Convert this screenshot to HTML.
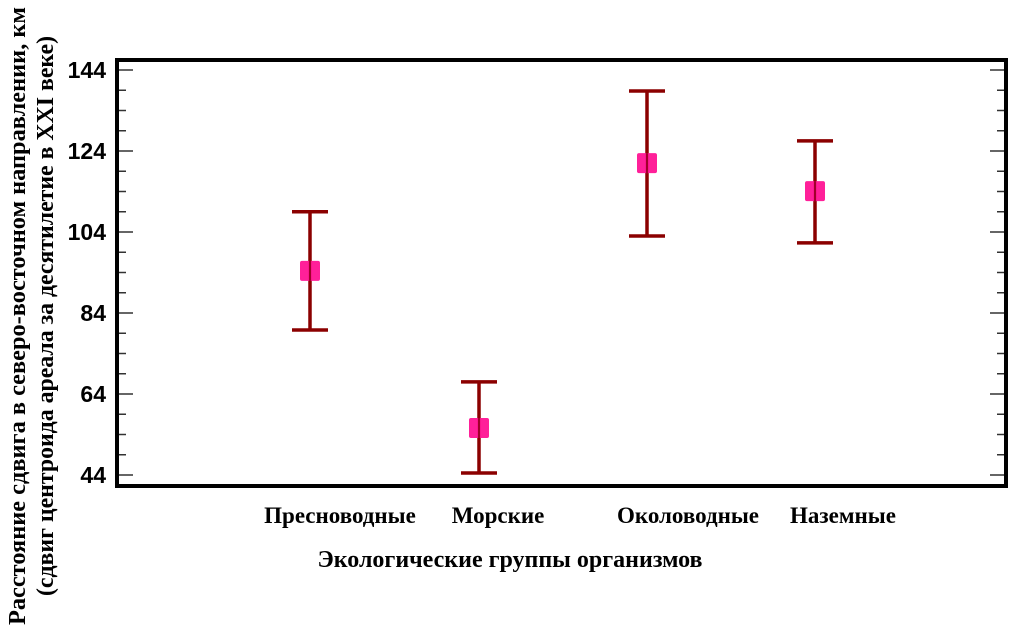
<!DOCTYPE html>
<html><head><meta charset="utf-8"><style>
html,body{margin:0;padding:0;background:#fff;}
svg{display:block;font-family:"Liberation Serif","Noto Serif CJK SC",serif;}
</style></head><body>
<svg id="chart" width="1024" height="637" viewBox="0 0 1024 637" xmlns="http://www.w3.org/2000/svg">
<g id="grid"></g>
<g id="marks"></g>
<rect x="117" y="60" width="889" height="426" fill="none" stroke="#000" stroke-width="4"/>
<text x="510" y="567" text-anchor="middle" font-size="24" font-weight="bold">Экологические группы организмов</text>
<text transform="translate(25,316) rotate(-90)" text-anchor="middle" font-size="24" font-weight="bold" textLength="618" lengthAdjust="spacingAndGlyphs">Расстояние сдвига  в северо-восточном направлении, км</text>
<text transform="translate(53,316) rotate(-90)" text-anchor="middle" font-size="24" font-weight="bold" textLength="560" lengthAdjust="spacingAndGlyphs">(сдвиг центроида ареала за десятилетие в XXI веке)</text>
</svg>
<script>
const categories = ["Пресноводные","Морские","Околоводные","Наземные"];
const means = [94.4, 55.6, 121, 114.1];
const upper = [109, 67, 138.8, 126.5];
const lower = [79.8, 44.5, 103, 101.3];
const yTicks = [44, 64, 84, 104, 124, 144];
const catX = [310, 479, 647, 815];
const NS = "http://www.w3.org/2000/svg";
function y(v){ return 475 - (v - 44) * 4.05; }
function mk(tag, attrs, parent){ const e = document.createElementNS(NS, tag); for (const k in attrs) e.setAttribute(k, attrs[k]); parent.appendChild(e); return e; }
const grid = document.getElementById("grid");
const marks = document.getElementById("marks");
for (let v = 44; v <= 144; v += 5) {
  const major = yTicks.includes(v);
  const len = major ? 14 : 7;
  const t1 = mk("line", {x1:119, x2:119+len, y1:y(v), y2:y(v), stroke:"#333", "stroke-width":1.5}, grid);
  
  
  const t2 = mk("line", {x1:1004-len, x2:1004, y1:y(v), y2:y(v), stroke:"#333", "stroke-width":1.5}, grid);
  
  
}
yTicks.forEach(v => {
  const t = mk("text", {x:106, y:y(v)+8, "text-anchor":"end", "font-size":23, "font-weight":"bold", "font-family":"Liberation Sans, sans-serif"}, grid);
  t.textContent = v;
  
  
});
const labelX = [340, 498, 688, 843];
categories.forEach((c, i) => {
  const x = catX[i];
  const g = mk("g", {}, marks);
  
  
  mk("line", {x1:x, x2:x, y1:y(upper[i]), y2:y(lower[i]), stroke:"#8b0000", "stroke-width":3.5}, g);
  mk("line", {x1:x-18, x2:x+18, y1:y(upper[i]), y2:y(upper[i]), stroke:"#8b0000", "stroke-width":3.5}, g);
  mk("line", {x1:x-18, x2:x+18, y1:y(lower[i]), y2:y(lower[i]), stroke:"#8b0000", "stroke-width":3.5}, g);
  const m = mk("rect", {x:x-10, y:y(means[i])-10, width:20, height:20, rx:2, fill:"#ff1493", opacity:0.95}, g);
  
  
  mk("line", {x1:x, x2:x, y1:y(means[i])-10, y2:y(means[i])+10, stroke:"#a0002a", "stroke-width":2}, g);
  const l = mk("text", {x:labelX[i], y:523, "text-anchor":"middle", "font-size":23, "font-weight":"bold"}, marks);
  l.textContent = c;
  
  
});
</script>
</body></html>
